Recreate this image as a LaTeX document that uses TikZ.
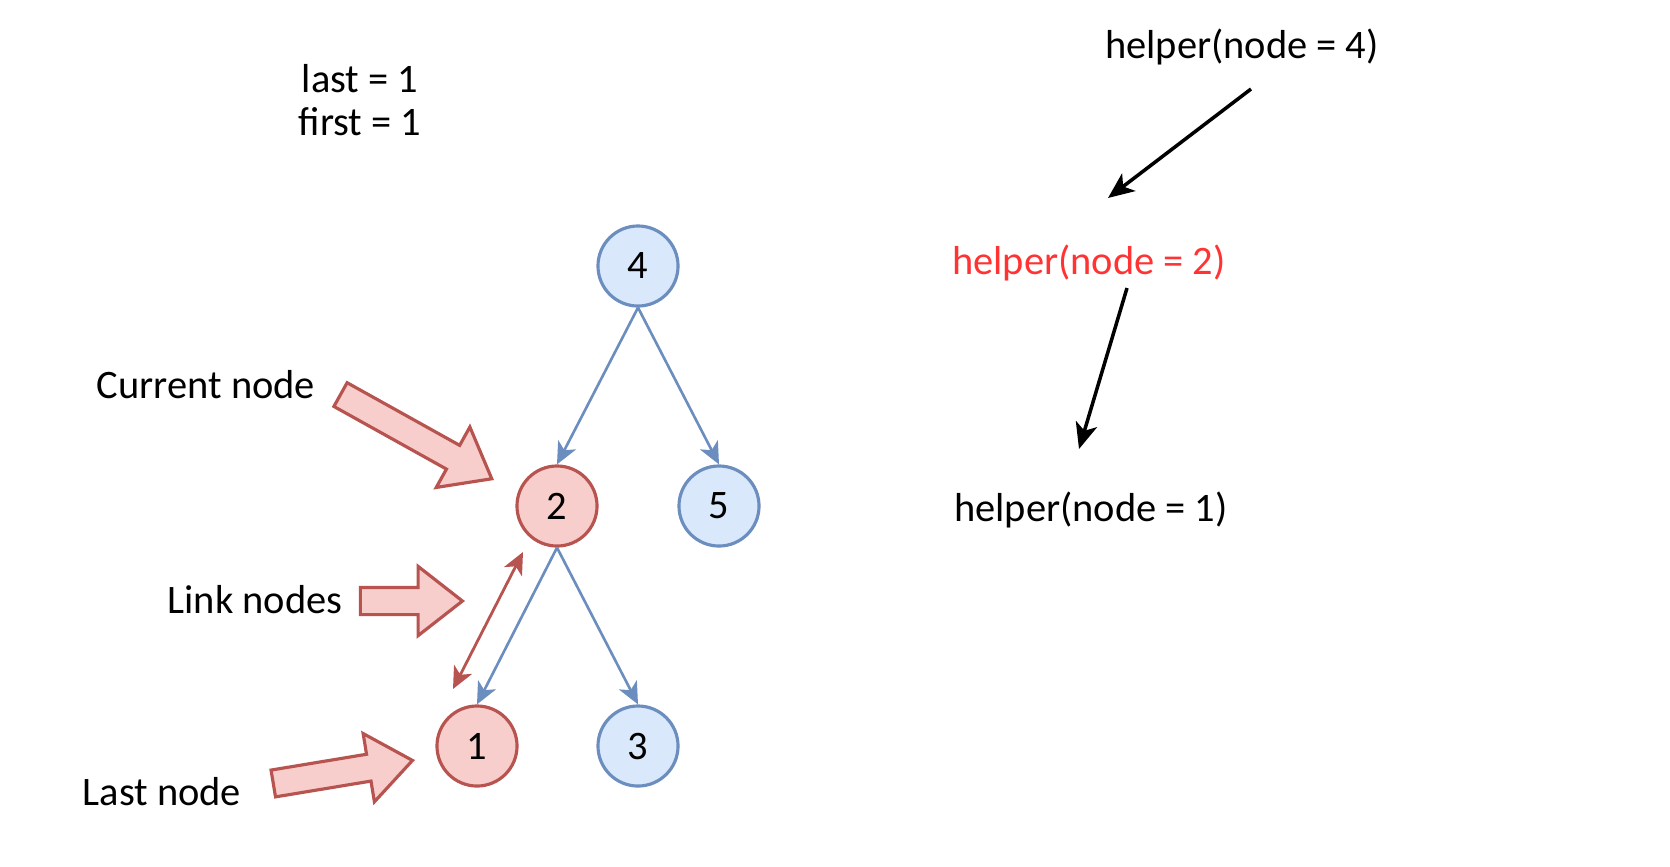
\documentclass[tikz,border=0pt]{standalone}
\usepackage{fontspec}
\setmainfont{Carlito}
\usetikzlibrary{arrows.meta,shapes.arrows}
\definecolor{nodeblue}{HTML}{DAE8FC}
\definecolor{lineblue}{HTML}{6C8EBF}
\definecolor{nodered}{HTML}{F8CECC}
\definecolor{linered}{HTML}{B85450}
\definecolor{callred}{HTML}{FF3333}

\begin{document}
\begin{tikzpicture}[x=0.01cm,y=-0.01cm,
    every node/.style={font=\fontsize{11.5pt}{12pt}\selectfont},
    treenode/.style={circle,draw=lineblue,fill=nodeblue,line width=0.9pt,
      minimum size=0.8cm,inner sep=0pt},
    hotnode/.style={treenode,draw=linered,fill=nodered},
    treeedge/.style={draw=lineblue,line width=0.75pt,
      -{Stealth[length=0.22cm,width=0.2cm,inset=0.06cm]}},
    linkedge/.style={draw=linered,line width=0.8pt,
      {Stealth[length=0.22cm,width=0.2cm,inset=0.06cm]}-{Stealth[length=0.22cm,width=0.2cm,inset=0.06cm]}},
    callarrow/.style={line width=1pt,
      -{Stealth[length=0.26cm,width=0.22cm,inset=0.07cm]}},
    bigarrow/.style={single arrow,draw=linered,fill=nodered,line width=0.9pt,
      inner xsep=0pt,inner ysep=0.12cm,minimum width=0.66cm,anchor=tip,
      single arrow head extend=0.21cm,single arrow tip angle=76}]
      \useasboundingbox (0,0) rectangle (1670,866) ;
      % the tree
      \node[treenode] (n4) at (638,266) {4} ;
      \node[hotnode] (n2) at (557,506) {2} ;
      \node[treenode] (n5) at (719,506) {5} ;
      \node[hotnode] (n1) at (477,746) {1} ;
      \node[treenode] (n3) at (638,746) {3} ;
      \draw[treeedge] (n4.south) -- (n2.north) ;
      \draw[treeedge] (n4.south) -- (n5.north) ;
      \draw[treeedge] (n2.south) -- (n1.north) ;
      \draw[treeedge] (n2.south) -- (n3.north) ;
      \coordinate (linktop) at (523,552) ;
      \coordinate (linkbot) at (453,689) ;
      \draw[linkedge] (linkbot) -- (linktop) ;
      % labels and pointers
      \node[align=center] (vars) at (360,100) {last = 1\\first = 1} ;
      \node (curlbl) at (206,385) {Current node} ;
      \node (linklbl) at (255,600) {Link nodes} ;
      \node (lastlbl) at (162,792) {Last node} ;
      \node[bigarrow,minimum height=1.73cm,rotate=-29.1] (curarr) at (494,480) {} ;
      \node[bigarrow,minimum height=1.02cm] (linkarr) at (465,601) {} ;
      \node[bigarrow,minimum height=1.41cm,rotate=9.4] (lastarr) at (415,760) {} ;
      % call stack
      \node (h4) at (1242,47) {helper(node = 4)} ;
      \node[text=callred] (h2) at (1089,263) {helper(node = 2)} ;
      \node (h1) at (1091,510) {helper(node = 1)} ;
      \coordinate (c1a) at (1251,89) ;
      \coordinate (c1b) at (1108,198) ;
      \coordinate (c2a) at (1127,288) ;
      \coordinate (c2b) at (1079,449) ;
      \draw[callarrow] (c1a) -- (c1b) ;
      \draw[callarrow] (c2a) -- (c2b) ;
\end{tikzpicture}
\end{document}
